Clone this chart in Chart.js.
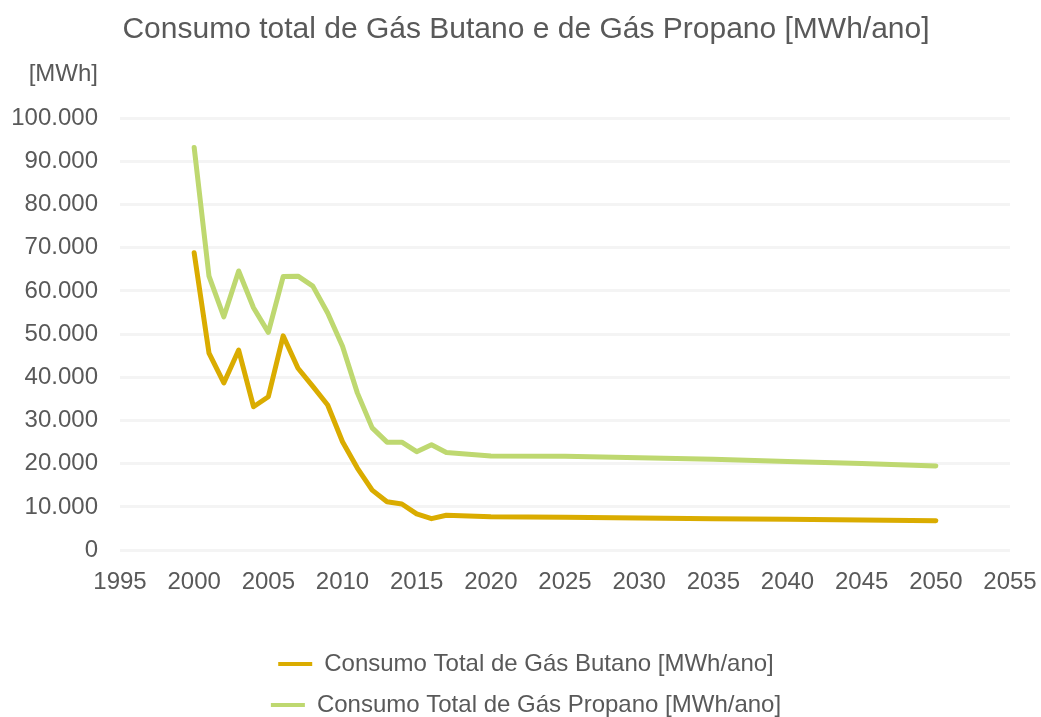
<!DOCTYPE html>
<html>
<head>
<meta charset="utf-8">
<script src="https://cdn.jsdelivr.net/npm/chart.js@4.4.1/dist/chart.umd.min.js"></script>
<style>
  html, body { margin: 0; padding: 0; background: #ffffff; }
  #wrap { width: 1041px; height: 717px; }
</style>
</head>
<body>
<div id="wrap"><canvas id="c" width="1041" height="717"></canvas></div>
<script>
// Years with recorded / projected values
const years = [2000, 2001, 2002, 2003, 2004, 2005, 2006, 2007, 2008, 2009,
               2010, 2011, 2012, 2013, 2014, 2015, 2016, 2017,
               2020, 2025, 2030, 2035, 2040, 2045, 2050];

// Consumo total de gás butano [MWh/ano]
const butano = [68800, 45600, 38700, 46300, 33200, 35500, 49600, 42100, 37900, 33600,
                25100, 19000, 13900, 11200, 10700, 8400, 7300, 8100,
                7750, 7650, 7450, 7300, 7150, 7000, 6800];

// Consumo total de gás propano [MWh/ano]
const propano = [93200, 63400, 54000, 64600, 56100, 50400, 63300, 63400, 61100, 54900,
                 47200, 36400, 28300, 25000, 25000, 22800, 24400, 22600,
                 21800, 21750, 21400, 21050, 20550, 20050, 19500];

const seriesNames = ['Consumo Total de Gás Butano [MWh/ano]', 'Consumo Total de Gás Propano [MWh/ano]'];
const chartTitle = 'Consumo total de Gás Butano e de Gás Propano [MWh/ano]';
const unitLabel = '[MWh]';

const textColor = '#595959';
const fontFamily = '"Liberation Sans", Arial, sans-serif';

const toPoints = (vals) => years.map((y, i) => ({ x: y, y: vals[i] }));

// Unit label drawn above the value axis
const unitPlugin = {
  id: 'unitLabel',
  afterDraw(chart) {
    const { ctx, chartArea } = chart;
    ctx.save();
    ctx.font = '24px ' + fontFamily;
    ctx.fillStyle = textColor;
    ctx.textAlign = 'right';
    ctx.textBaseline = 'middle';
    ctx.fillText(unitLabel, chartArea.left - 22, chartArea.top - 44);
    ctx.restore();
  }
};

new Chart(document.getElementById('c'), {
  type: 'line',
  data: {
    datasets: [
      {
        label: seriesNames[0],
        data: toPoints(butano),
        borderColor: '#DAAC00',
        backgroundColor: '#DAAC00',
        borderWidth: 5,
        borderCapStyle: 'round',
        borderJoinStyle: 'round',
        pointRadius: 0,
        tension: 0
      },
      {
        label: seriesNames[1],
        data: toPoints(propano),
        borderColor: '#BED870',
        backgroundColor: '#BED870',
        borderWidth: 5,
        borderCapStyle: 'round',
        borderJoinStyle: 'round',
        pointRadius: 0,
        tension: 0
      }
    ]
  },
  options: {
    responsive: false,
    animation: false,
    layout: { padding: { left: 11, right: 0, top: 0, bottom: -10 } },
    plugins: {
      title: {
        display: true,
        text: chartTitle,
        color: textColor,
        font: { family: fontFamily, size: 30, weight: 'normal' },
        padding: { top: 12, bottom: 70 }
      },
      legend: {
        position: 'bottom',
        labels: {
          color: textColor,
          font: { family: fontFamily, size: 24 },
          boxWidth: 34,
          boxHeight: 4,
          padding: 17,
          generateLabels: (chart) =>
            Chart.defaults.plugins.legend.labels.generateLabels(chart)
              .map((item) => Object.assign(item, { lineWidth: 0 }))
        }
      },
      tooltip: { enabled: false }
    },
    scales: {
      x: {
        type: 'linear',
        min: 1995,
        max: 2055,
        border: { display: false },
        grid: { display: false, drawTicks: false },
        ticks: {
          stepSize: 5,
          color: textColor,
          font: { family: fontFamily, size: 24 },
          padding: 18,
          maxRotation: 0,
          callback: (v) => String(v)
        },
        afterFit: (scale) => {
          scale.height += 20;
          scale.paddingLeft = 0;
          scale.paddingRight = 31;
        }
      },
      y: {
        min: 0,
        max: 100000,
        border: { display: false },
        grid: { color: '#F4F4F4', lineWidth: 3, drawTicks: false },
        ticks: {
          stepSize: 10000,
          color: textColor,
          font: { family: fontFamily, size: 24 },
          padding: 22,
          callback: (v) => v.toString().replace(/\B(?=(\d{3})+(?!\d))/g, '.')
        },
        afterFit: (scale) => { scale.width = 109; }
      }
    }
  },
  plugins: [unitPlugin]
});
</script>
</body>
</html>
